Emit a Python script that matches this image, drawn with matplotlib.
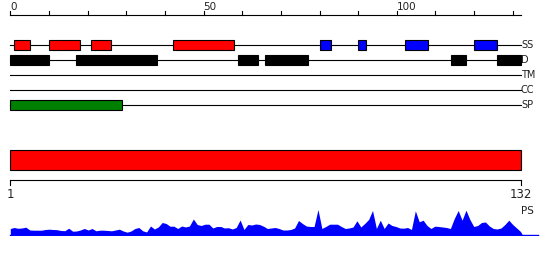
import matplotlib
matplotlib.use("Agg")
import matplotlib.pyplot as plt

# protein feature summary: sequence of 132 residues
seq_len = 132
ruler_ticks = list(range(0, 131, 10))
ruler_labels = [0, 50, 100]

track_names = ["SS", "D", "TM", "CC", "SP"]
helix = [(1, 5), (10, 18), (21, 26), (42, 58)]
strand = [(80, 83), (90, 92), (102, 108), (120, 126)]
disorder = [(0, 10), (17, 38), (59, 64), (66, 77), (114, 118), (126, 132)]
transmem = []
coiled = []
signal = [(0, 29)]

domain = [(1, 132)]

# PS profile, one value per residue
ps_scores = [
    7, 8, 7.2, 7.5, 8.3, 5.5, 5.3, 5.3, 5.3, 6,
    6.3, 6, 5.8, 5, 4.8, 7.3, 4.3, 4.5, 5.5, 7,
    5.5, 7, 4.7, 5.3, 5.3, 5, 4.7, 5.5, 6.3, 4.5,
    3.3, 4.5, 7, 8, 4.7, 3.5, 9.5, 6.5, 8.5, 13,
    12, 9.3, 9.3, 7, 9.5, 8.5, 9.5, 16.5, 11, 10,
    11.3, 11.3, 7.5, 9, 9, 7.5, 7.8, 6.5, 8, 15.5,
    6, 11, 10.5, 11.5, 11, 9.3, 7, 7.5, 8, 7,
    5.5, 5.5, 6, 7.5, 15, 12, 9.5, 9, 9, 26,
    7, 9, 11.3, 11.3, 11.3, 9, 7, 7.5, 8.5, 14.7,
    8.5, 12, 16, 25, 7, 15.3, 7, 12.5, 10, 9,
    7.5, 7.3, 8, 6, 24.7, 13.7, 15.3, 10, 7, 9.3,
    9, 8.5, 8, 7, 17, 25, 15.3, 25.3, 16, 9,
    10, 13, 13.5, 9.5, 7, 6.5, 7.5, 11, 15.3, 11,
    7.5, 4,
]
residues = list(range(1, seq_len + 1))

W, H = 550, 260
fig = plt.figure(figsize=(W / 100, H / 100), dpi=100)

# top part: x in sequence units, y in pixels from top
left_px, right_px = 10.3, 520.5
sc_top = (right_px - left_px) / seq_len
ax = fig.add_axes([0, 0, 1, 1])
ax.set_xlim(-left_px / sc_top, (W - left_px) / sc_top)
ax.set_ylim(H, 0)
ax.axis("off")

lw = 0.8
# ruler
ax.plot([0, seq_len], [14.7, 14.7], color="black", lw=lw)
for t in ruler_ticks:
    ax.plot([t, t], [14.7, 10.5], color="black", lw=lw)
for t in ruler_labels:
    ax.text(t, 10.5, str(t), ha="left", va="baseline", fontsize=7.5, color="#222222")

track_y = [45, 60, 75.3, 90, 105]
features = [
    [(helix, "#ff0000"), (strand, "#0000ff")],
    [(disorder, "#000000")],
    [(transmem, "#000000")],
    [(coiled, "#000000")],
    [(signal, "#008000")],
]
for name, y, feats in zip(track_names, track_y, features):
    ax.plot([0, seq_len], [y, y], color="black", lw=lw, zorder=1)
    for segs, col in feats:
        for s, e in segs:
            ax.barh(y, e - s, left=s, height=10, color=col,
                    edgecolor="black", linewidth=lw, zorder=2)
    ax.text(seq_len + 0.1, y, name, ha="left", va="center",
            fontsize=7, color="#222222")

# bottom part: x in residue numbers 1..132
sc_bot = (right_px - left_px) / (seq_len - 1)
xlim_bot = (1 - left_px / sc_bot, 1 + (W - left_px) / sc_bot)
ax2 = fig.add_axes([0, 0, 1, 1])
ax2.set_xlim(*xlim_bot)
ax2.set_ylim(H, 0)
ax2.axis("off")
ax2.patch.set_alpha(0)

for s, e in domain:
    ax2.barh(160.3, e - s, left=s, height=20, color="#ff0000",
             edgecolor="black", linewidth=lw)
ax2.plot([1, seq_len], [180.3, 180.3], color="black", lw=lw)
for t in (1, seq_len):
    ax2.plot([t, t], [180.3, 185], color="black", lw=lw)
    ax2.text(t, 188.5, str(t), ha="center", va="top", fontsize=8.5, color="#222222")
ax2.text(seq_len + 0.2, 205.5, "PS", ha="left", va="top", fontsize=7.5, color="#222222")

# PS profile
ax3 = fig.add_axes([0, 24.5 / H, 1, 30 / H])
ax3.set_xlim(*xlim_bot)
ax3.set_ylim(0, 30)
ax3.axis("off")
ax3.patch.set_alpha(0)
ax3.fill_between(residues + [seq_len + 0.6], ps_scores + [0], 0,
                 color="#0000ff", lw=0)
ax3.plot([1, seq_len + 4.6], [0.2, 0.2], color="#0000ff", lw=1)

fig.savefig("out.png", dpi=100)
